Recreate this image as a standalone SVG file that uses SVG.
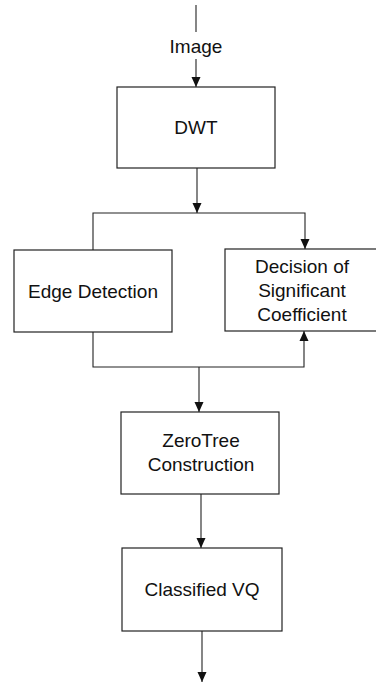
<svg xmlns="http://www.w3.org/2000/svg" width="376" height="683" viewBox="0 0 376 683">
  <style>
    .box { fill: #fff; stroke: #222; stroke-width: 1.2; }
    .wire { fill: none; stroke: #222; stroke-width: 1.1; }
    .lbl { font-family: "Liberation Sans", Arial, sans-serif; font-size: 19px; fill: #111; text-anchor: middle; }
  </style>
  <defs>
    <marker id="head" viewBox="0 0 10 10" refX="10" refY="5" markerWidth="10" markerHeight="10" markerUnits="userSpaceOnUse" orient="auto">
      <path d="M0,0.5 L10,5 L0,9.5 Z" fill="#111"/>
    </marker>
  </defs>
  <rect width="376" height="683" fill="#fff"/>

  <g id="connectors">
    <line class="wire" x1="196" y1="5" x2="196" y2="32"/>
    <line class="wire" x1="196" y1="59" x2="196" y2="87" marker-end="url(#head)"/>
    <line class="wire" x1="197" y1="168" x2="197" y2="213" marker-end="url(#head)"/>
    <polyline class="wire" points="93,250 93,213 305,213 305,249" marker-end="url(#head)"/>
    <polyline class="wire" points="93,332 93,367 304,367 304,331" marker-end="url(#head)"/>
    <line class="wire" x1="199" y1="367" x2="199" y2="412" marker-end="url(#head)"/>
    <line class="wire" x1="201" y1="494" x2="201" y2="548" marker-end="url(#head)"/>
    <line class="wire" x1="202" y1="631" x2="202" y2="682" marker-end="url(#head)"/>
  </g>

  <g id="input-label">
    <text class="lbl" x="196" y="53">Image</text>
  </g>

  <g id="dwt">
    <rect class="box" x="117" y="87" width="158" height="81"/>
    <text class="lbl" x="196" y="134">DWT</text>
  </g>

  <g id="edge-detection">
    <rect class="box" x="14" y="250" width="158" height="82"/>
    <text class="lbl" x="93" y="298">Edge Detection</text>
  </g>

  <g id="significant-coefficient">
    <rect class="box" x="225" y="249" width="160" height="82"/>
    <text class="lbl" x="302" y="273">Decision of</text>
    <text class="lbl" x="302" y="297">Significant</text>
    <text class="lbl" x="302" y="321">Coefficient</text>
  </g>

  <g id="zerotree">
    <rect class="box" x="121" y="412" width="158" height="82"/>
    <text class="lbl" x="201" y="447">ZeroTree</text>
    <text class="lbl" x="201" y="471">Construction</text>
  </g>

  <g id="classified-vq">
    <rect class="box" x="122" y="548" width="160" height="83"/>
    <text class="lbl" x="202" y="596">Classified VQ</text>
  </g>
</svg>
